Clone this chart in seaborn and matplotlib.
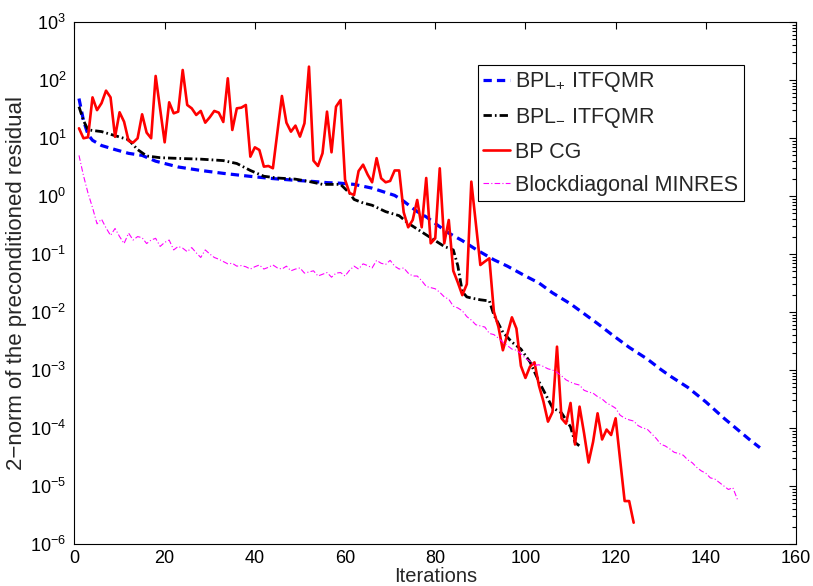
import numpy as np
import pandas as pd
import matplotlib
matplotlib.use("Agg")
import matplotlib.pyplot as plt
import seaborn as sns
from matplotlib.ticker import NullFormatter, FixedLocator, LogFormatterSciNotation

sns.set_theme(style="white")
plt.rcParams["font.family"] = ["Liberation Sans", "DejaVu Sans"]
plt.rcParams["mathtext.fontset"] = "custom"
plt.rcParams["mathtext.rm"] = "Liberation Sans"
plt.rcParams["mathtext.it"] = "Liberation Sans:italic"
plt.rcParams["mathtext.bf"] = "Liberation Sans:bold"
plt.rcParams["mathtext.default"] = "regular"

# ---------------------------------------------------------------------------
# Convergence histories: log10 of the preconditioned residual 2-norm
# ---------------------------------------------------------------------------

# BPL_+ ITFQMR (knots along the curve)
bplp_iter = [1, 2, 3, 4, 6, 9, 12, 15, 18, 21, 23, 28, 33, 37, 40, 44, 49, 53,
             56, 59, 62, 66, 69, 71, 73, 76, 78, 81, 83, 86, 89, 93, 96, 100,
             103, 106, 110, 113, 116, 119, 123, 127, 130, 132, 136, 140, 144,
             148, 150, 152]
bplp_log = [1.68, 1.30, 1.06, 0.96, 0.87, 0.80, 0.735, 0.70, 0.60, 0.54, 0.50,
            0.44, 0.39, 0.355, 0.33, 0.30, 0.27, 0.25, 0.23, 0.22, 0.20, 0.135,
            0.06, 0.01, -0.09, -0.27, -0.36, -0.53, -0.64, -0.77, -0.92, -1.10,
            -1.21, -1.38, -1.50, -1.67, -1.86, -2.03, -2.20, -2.38, -2.61,
            -2.81, -2.99, -3.10, -3.30, -3.55, -3.83, -4.09, -4.22, -4.34]

# BPL_- ITFQMR (knots along the curve)
bplm_iter = [1, 2, 3, 6, 9, 12, 14, 16, 19, 24, 28, 33, 36, 39, 42, 45, 49, 52,
             55, 59, 61, 62, 64, 66, 69, 72, 74, 76, 79, 82, 84, 85, 86, 87, 88,
             90, 92, 93, 95, 97, 99, 101, 103, 105, 106, 108, 110, 111, 112]
bplm_log = [1.54, 1.30, 1.14, 1.11, 1.04, 0.97, 0.80, 0.69, 0.66, 0.645, 0.635,
            0.61, 0.56, 0.44, 0.34, 0.31, 0.29, 0.25, 0.20, 0.20, 0.05, -0.06,
            -0.12, -0.16, -0.27, -0.34, -0.47, -0.57, -0.72, -0.87, -0.93,
            -1.20, -1.65, -1.74, -1.76, -1.79, -1.81, -2.05, -2.35, -2.52,
            -2.64, -2.86, -3.20, -3.50, -3.65, -3.74, -3.98, -4.25, -4.31]

# BP CG, one value per iteration 1..124
bpcg_log = [1.167, 0.995, 1.012, 1.70, 1.48, 1.60, 1.816, 1.70, 1.02, 1.443,
            1.28, 0.95, 0.92, 0.995, 1.408, 1.092, 0.995, 2.069, 1.497, 0.925,
            1.615, 1.425, 1.454, 2.172, 1.569, 1.511, 1.397, 1.466, 1.264,
            1.357, 1.466, 1.437, 1.276, 2.029, 1.138, 1.511, 1.523, 1.569,
            0.678, 0.839, 0.793, 0.506, 0.517, 0.478, 1.10, 1.724, 1.264,
            1.109, 1.213, 1.023, 1.253, 2.230, 0.609, 0.517, 0.736, 1.454,
            0.753, 1.540, 1.655, 0.28, 0.05, 0.017, 0.43, 0.54, 0.37, 0.236,
            0.652, 0.305, 0.236, 0.259, 0.44, 0.44, -0.28, -0.54, -0.414,
            -0.069, -0.54, 0.31, -0.816, -0.73, 0.477, -0.816, -0.414, -1.29,
            -1.49, -1.71, -1.52, 0.247, -0.47, -1.19, -1.13, -1.075, -1.994,
            -2.253, -2.66, -2.38, -2.092, -2.285, -2.93, -3.137, -2.943,
            -2.868, -3.27, -3.546, -3.891, -3.727, -2.598, -3.833, -3.925,
            -3.569, -4.285, -3.632, -4.09, -4.595, -4.24, -3.747, -4.198,
            -4.027, -4.121, -3.833, -4.55, -5.26, -5.26, -5.633]
bpcg_iter = list(range(1, len(bpcg_log) + 1))

# Blockdiagonal MINRES, one value per iteration 1..147
minres_log = [0.70, 0.35, 0.05, -0.20, -0.48, -0.40, -0.55, -0.68, -0.56, -0.70,
              -0.82, -0.64, -0.76, -0.70, -0.72, -0.82, -0.76, -0.73, -0.87,
              -0.80, -0.76, -0.93, -0.87, -0.90, -0.96, -0.89, -0.98, -1.06,
              -0.93, -1.00, -1.06, -1.09, -1.13, -1.17, -1.16, -1.21, -1.20,
              -1.22, -1.26, -1.22, -1.19, -1.26, -1.23, -1.19, -1.24, -1.26,
              -1.21, -1.29, -1.26, -1.24, -1.33, -1.31, -1.29, -1.38, -1.35,
              -1.32, -1.40, -1.33, -1.32, -1.38, -1.28, -1.21, -1.26, -1.17,
              -1.20, -1.24, -1.11, -1.16, -1.18, -1.11, -1.21, -1.26, -1.24,
              -1.33, -1.38, -1.38, -1.46, -1.56, -1.58, -1.60, -1.66, -1.74,
              -1.78, -1.90, -1.93, -1.98, -2.08, -2.14, -2.22, -2.24, -2.26,
              -2.37, -2.39, -2.45, -2.52, -2.58, -2.64, -2.66, -2.72, -2.80,
              -2.85, -2.92, -2.91, -2.94, -2.98, -3.00, -3.04, -3.10, -3.17,
              -3.21, -3.24, -3.26, -3.35, -3.38, -3.40, -3.46, -3.50, -3.57,
              -3.61, -3.66, -3.78, -3.83, -3.86, -3.88, -3.96, -4.00, -4.02,
              -4.10, -4.18, -4.28, -4.31, -4.36, -4.42, -4.44, -4.47, -4.55,
              -4.60, -4.68, -4.74, -4.78, -4.86, -4.88, -4.94, -5.00, -5.06,
              -5.03, -5.23]
minres_iter = list(range(1, len(minres_log) + 1))

labels = [r"BPL$_{+}$ ITFQMR", r"BPL$_{-}$ ITFQMR", "BP CG",
          "Blockdiagonal MINRES"]
x_ticks = [0, 20, 40, 60, 80, 100, 120, 140, 160]
y_decades = [-6, -5, -4, -3, -2, -1, 0, 1, 2, 3]


def frame(iters, logs, name):
    return pd.DataFrame({"iteration": iters,
                         "residual": np.power(10.0, logs),
                         "method": name})


fig = plt.figure(figsize=(8.13, 5.86), dpi=100)
ax = fig.add_axes([0.0916, 0.0717, 0.8875, 0.8908])

series = [
    (frame(bplp_iter, bplp_log, labels[0]), dict(color="#0000ff", lw=2.3, linestyle=(0, (2.6, 1.6)))),
    (frame(bplm_iter, bplm_log, labels[1]), dict(color="black", lw=2.0, linestyle=(0, (3.0, 1.1, 0.6, 1.1)))),
    (frame(bpcg_iter, bpcg_log, labels[2]), dict(color="#ff0000", lw=1.9, linestyle="-")),
    (frame(minres_iter, minres_log, labels[3]), dict(color="#ff00ff", lw=0.8, linestyle=(0, (5.0, 2.0, 1.0, 2.0)))),
]
for df, style in series:
    sns.lineplot(data=df, x="iteration", y="residual", ax=ax, sort=False,
                 errorbar=None, label=df["method"].iloc[0], **style)

ax.set_yscale("log")
ax.set_xlim(0, 160)
ax.set_ylim(1e-6, 1e3)
ax.xaxis.set_major_locator(FixedLocator(x_ticks))
major_y = [10.0 ** d for d in y_decades]
minor_y = [m * 10.0 ** d for d in y_decades[:-1] for m in range(2, 10)]
ax.yaxis.set_major_locator(FixedLocator(major_y))
ax.yaxis.set_major_formatter(LogFormatterSciNotation(base=10))
ax.yaxis.set_minor_locator(FixedLocator(minor_y))
ax.yaxis.set_minor_formatter(NullFormatter())

ax.tick_params(axis="both", which="both", direction="in", top=True, right=True,
               colors="black", labelsize=13, width=0.8)
ax.tick_params(axis="both", which="major", length=5)
ax.tick_params(axis="both", which="minor", length=3)
ax.tick_params(axis="y", which="major", pad=6)
ax.tick_params(axis="x", which="major", pad=4)

for sp in ax.spines.values():
    sp.set_color("black")
    sp.set_linewidth(0.8)

ax.set_xlabel("Iterations", fontsize=14.5, labelpad=0)
ax.set_ylabel("2\u2212norm of the preconditioned residual", fontsize=16, labelpad=2)

leg = ax.legend(loc="upper left", bbox_to_anchor=(0.559, 0.918), borderaxespad=0,
                fontsize=15.5, frameon=True, fancybox=False, framealpha=1,
                edgecolor="black", handlelength=1.25, handletextpad=0.25,
                borderpad=0.25, labelspacing=0.55)
leg.get_frame().set_linewidth(0.8)

fig.savefig("out.png", dpi=100)
